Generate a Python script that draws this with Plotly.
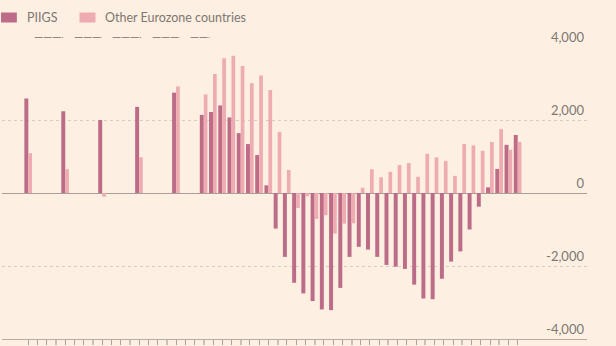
import plotly.graph_objects as go

# ---------------- data ----------------
annual_years = [2000, 2001, 2002, 2003, 2004]
piigs_annual = [2590, 2240, 2000, 2360, 2750]
other_annual = [1090, 650, -100, 980, 2920]

quarter_labels = [f"{y} Q{q}" for y in range(2005, 2014) for q in range(1, 5)][:35]
piigs_quarterly = [2140, 2220, 2400, 2070, 1640, 1340, 1040, 210,
                   -975, -1750, -2460, -2750, -2960, -3190, -3210, -2600,
                   -1750, -1475, -1550, -1750, -1970, -2020, -2080, -2510,
                   -2890, -2910, -2350, -1880, -1600, -1000, -375, 155,
                   660, 1320, 1590]
other_quarterly = [2700, 3260, 3690, 3760, 3480, 3010, 3220, 2820,
                   1675, 630, -410, -90, -710, -610, -1110, -840,
                   -830, 145, 650, 430, 580, 765, 820, 445,
                   1075, 975, 880, 470, 1345, 1305, 1155, 1400,
                   1750, 1185, 1400]

y_tickvals = [-4000, -2000, 0, 2000, 4000]
y_ticktext = ["-4,000", "-2,000", "0", "2,000", "4,000"]
series_names = ["PIIGS", "Other Eurozone countries"]

# ---------------- positions (quarter index) ----------------
def pos_annual(y):
    return 4 * (y - 2000)

def pos_quarter(label):
    y, q = label.split(" Q")
    return 19 + 4 * (int(y) - 2005) + (int(q) - 1)

x_all = [pos_annual(y) for y in annual_years] + [pos_quarter(l) for l in quarter_labels]
piigs_all = piigs_annual + piigs_quarterly
other_all = other_annual + other_quarterly

BG = "#fdf0e2"
C_PIIGS = "#bd6c88"
C_OTHER = "#eeabb2"
TXT = "#7d7772"
FONT = "Lato"

fig = go.Figure()
fig.add_trace(go.Bar(x=x_all, y=piigs_all, name=series_names[0], marker_color=C_PIIGS,
                     marker_line_width=0, width=0.43, offset=-0.43, showlegend=False))
fig.add_trace(go.Bar(x=x_all, y=other_all, name=series_names[1], marker_color=C_OTHER,
                     marker_line_width=0, width=0.40, offset=0.0, showlegend=False))

all_ticks = list(range(0, 54))
major_ticks = [t for t in all_ticks if t % 4 == 3]
minor_ticks = [t for t in all_ticks if t % 4 != 3]

L, R, T, B = 2, 587, 47, 339
W, H = 616, 346

def px_x(px):
    return (px - L) / (R - L)

def px_y(py):
    return (B - py) / (B - T)

fig.update_layout(
    width=W, height=H,
    margin=dict(l=0, r=0, t=T, b=H - B),
    paper_bgcolor=BG, plot_bgcolor=BG,
    barmode="overlay",
    font=dict(family=FONT, size=13, color=TXT),
    xaxis=dict(
        domain=[L / W, R / W],
        range=[-2.85, 60.5],
        showgrid=False, zeroline=False,
        showline=True, linecolor="#b5ada6", linewidth=1,
        ticks="outside", ticklen=5, tickwidth=1.5, tickcolor="#c9c0b7",
        tickmode="array", tickvals=major_ticks, showticklabels=False,
        minor=dict(ticks="outside", ticklen=5, tickwidth=1, tickcolor="#aaa39c",
                   tickmode="array", tickvals=minor_ticks),
    ),
    yaxis=dict(
        range=[-4000, 4000],
        side="right",
        tickmode="array", tickvals=y_tickvals, ticktext=y_ticktext,
        ticklabelposition="inside top", ticklabeloverflow="allow",
        ticks="", showline=False,
        showgrid=True, gridcolor="#d6ccc2", griddash="dot", gridwidth=1,
        zeroline=True, zerolinecolor="#a99e97", zerolinewidth=1,
        tickfont=dict(family=FONT, size=13, color=TXT),
    ),
)

# custom legend
shapes = [
    dict(type="rect", xref="paper", yref="paper",
         x0=px_x(3), x1=px_x(18), y0=px_y(22.5), y1=px_y(12.5),
         fillcolor=C_PIIGS, line=dict(width=0)),
    dict(type="rect", xref="paper", yref="paper",
         x0=px_x(77.5), x1=px_x(92.7), y0=px_y(22.5), y1=px_y(12.5),
         fillcolor=C_OTHER, line=dict(width=0)),
]
for a, b in [(35, 62), (73, 99), (109, 136), (147, 173), (183, 201)]:
    shapes.append(dict(type="line", xref="paper", yref="paper",
                       x0=px_x(a), x1=px_x(b), y0=px_y(37.5), y1=px_y(37.5),
                       line=dict(color="#8e8782", width=1, dash="8px,1px")))
fig.update_layout(shapes=shapes)

fig.add_annotation(x=px_x(26), y=px_y(17.8), xref="paper", yref="paper",
                   text=series_names[0], showarrow=False, xanchor="left", yanchor="middle",
                   font=dict(family=FONT, size=12.5, color=TXT))
fig.add_annotation(x=px_x(99.7), y=px_y(17.8), xref="paper", yref="paper",
                   text=series_names[1], showarrow=False, xanchor="left", yanchor="middle",
                   font=dict(family=FONT, size=12.5, color=TXT))

fig.write_html("out.html")
